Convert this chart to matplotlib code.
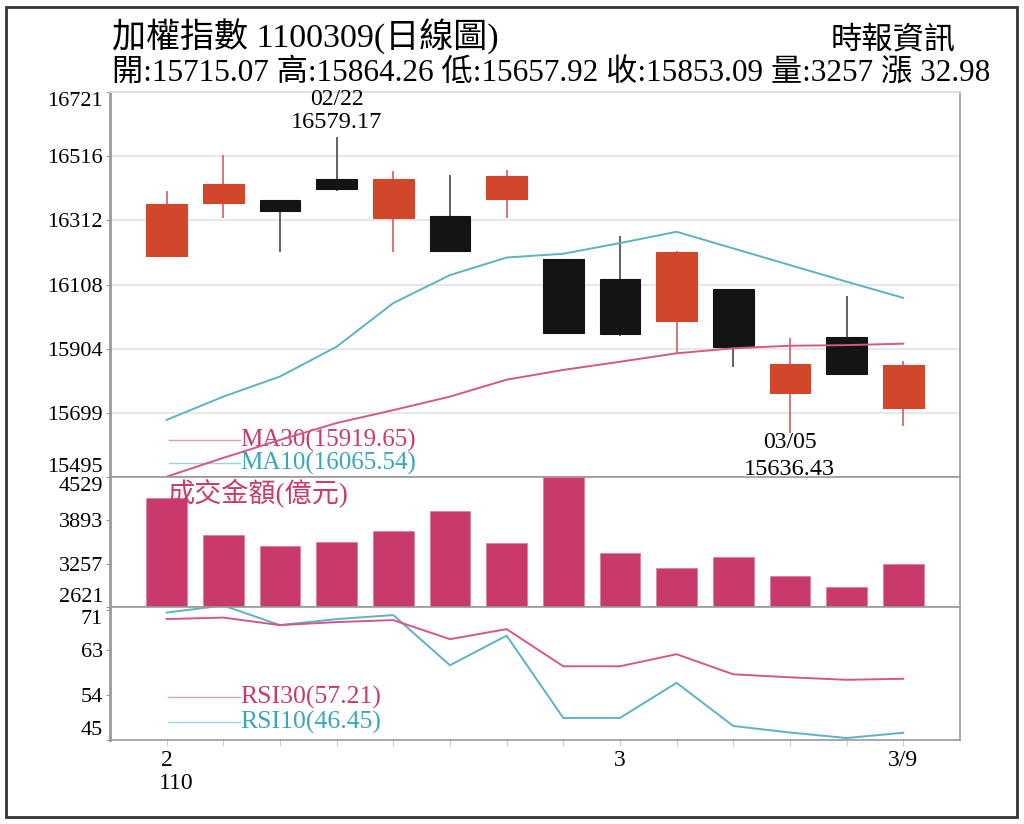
import numpy as np
import matplotlib
matplotlib.use('Agg')
from matplotlib import pyplot as plt
from matplotlib.patches import Rectangle

plt.rcParams['font.family'] = ['Liberation Serif', 'Noto Sans CJK TC']

# daily candles 110/02/18 .. 110/03/09
opens = [16199, 16368, 16377, 16444, 16321, 16326, 16379, 16188, 16126, 15993, 16093, 15762, 15942, 15715.07]
closes = [16364, 16427, 16343, 16411, 16443, 16216, 16455, 15955, 15950, 16212, 15910, 15854, 15823, 15853.09]
highs = [16406, 16520, 16377, 16579.17, 16470, 16457, 16473, 16190, 16262, 16215, 16093, 15937, 16071, 15864.26]
lows = [16199, 16321, 16212, 16405, 16213, 16213, 16321, 15950, 15945, 15889, 15846, 15636.43, 15820, 15657.92]

ma10 = [15677, 15751, 15815, 15910, 16049, 16138, 16194, 16206, 16240, 16276, 16223, 16170, 16117, 16065.54]
ma30 = [15496, 15556, 15613, 15667, 15708, 15751, 15805, 15836, 15862, 15889, 15905, 15913, 15915, 15919.65]

volume = [4221, 3678, 3516, 3579, 3736, 4034, 3565, 4529, 3418, 3198, 3350, 3076, 2910, 3257]

rsi30 = [69.1, 69.4, 67.9, 68.5, 68.9, 65.1, 67.1, 59.7, 59.7, 62.1, 58.1, 57.5, 57.0, 57.21]
rsi10 = [70.4, 71.8, 67.9, 69.1, 69.9, 59.9, 65.8, 49.4, 49.4, 56.4, 47.8, 46.5, 45.4, 46.45]

price_ticks = [15495, 15699, 15904, 16108, 16312, 16516, 16721]
vol_ticks = [2621, 3257, 3893, 4529]
rsi_ticks = [45, 54, 63, 71]
x_labels = {0: '2', 8: '3', 13: '3/9'}

RED = '#d2462c'
BLACK = '#141414'
PINK = '#c93a6c'
MA30_C = '#d4578c'
MA10_C = '#5cb3c3'
GRID = '#e4e4e4'
SPINE = '#9a9a9a'

fig = plt.figure(figsize=(10.24, 8.24), dpi=100)

L, W = 0.1074, 0.830
ax1 = fig.add_axes([L, 0.4211, W, 0.4672])
ax2 = fig.add_axes([L, 0.2633, W, 0.1578], sharex=ax1)
ax3 = fig.add_axes([L, 0.1019, W, 0.1614], sharex=ax1)

x = np.arange(len(opens))
bw = 0.72

# ---- price panel
for i in x:
    o, c, h, lo = opens[i], closes[i], highs[i], lows[i]
    up = c >= o
    col = RED if up else BLACK
    wick = '#d86a6a' if up else '#555555'
    ax1.vlines(i, lo, h, color=wick, lw=1.3, zorder=2)
    ax1.add_patch(Rectangle((i - bw / 2, min(o, c)), bw, abs(c - o),
                            facecolor=col, edgecolor=col, lw=0.8, zorder=3))

ax1.plot(x, ma10, color=MA10_C, lw=1.4, zorder=4)
ax1.plot(x, ma30, color=MA30_C, lw=1.4, zorder=4)

ax1.set_ylim(price_ticks[0], price_ticks[-1])
ax1.set_yticks(price_ticks)
ax1.grid(axis='y', color=GRID, lw=1.2)
ax1.set_axisbelow(True)

ax1.annotate('16579.17', (3, highs[3]), xytext=(0, 14), textcoords='offset pixels',
             ha='center', va='center', fontsize=17.5)
ax1.annotate('02/22', (3, highs[3]), xytext=(0, 37), textcoords='offset pixels',
             ha='center', va='center', fontsize=17, annotation_clip=False)
ax1.annotate('03/05', (11, lows[11]), xytext=(0, -10), textcoords='offset pixels',
             ha='center', va='center', fontsize=17)
ax1.annotate('15636.43', (11, lows[11]), xytext=(0, -37), textcoords='offset pixels',
             ha='center', va='center', fontsize=17.5, zorder=10, annotation_clip=False,
             bbox=dict(facecolor='white', edgecolor='none', pad=0.5))

ax1.plot([0.07, 0.153], [0.096, 0.096], transform=ax1.transAxes, color=MA30_C, lw=1, alpha=0.6)
ax1.plot([0.07, 0.153], [0.036, 0.036], transform=ax1.transAxes, color=MA10_C, lw=1, alpha=0.6)
ax1.text(0.153, 0.096, 'MA30(15919.65)', transform=ax1.transAxes, color=PINK,
         fontsize=18, va='center', ha='left')
ax1.text(0.153, 0.036, 'MA10(16065.54)', transform=ax1.transAxes, color='#3aa6b8',
         fontsize=18, va='center', ha='left')

# ---- volume panel
ax2.bar(x, volume, width=bw, color=PINK, edgecolor='#e07fa0', lw=0.6, zorder=3)
ax2.set_ylim(vol_ticks[0], vol_ticks[-1])
ax2.set_yticks(vol_ticks)
ax2.text(0.068, 0.87, '成交金額(億元)', transform=ax2.transAxes, color=PINK,
         fontsize=19.5, va='center', ha='left', zorder=5)

# ---- rsi panel
ax3.plot(x, rsi10, color=MA10_C, lw=1.4)
ax3.plot(x, rsi30, color=MA30_C, lw=1.4)
ax3.set_ylim(45, 71.5)
ax3.set_yticks(rsi_ticks)
ax3.plot([0.068, 0.153], [0.323, 0.323], transform=ax3.transAxes, color=MA30_C, lw=1, alpha=0.6)
ax3.plot([0.068, 0.153], [0.135, 0.135], transform=ax3.transAxes, color=MA10_C, lw=1, alpha=0.6)
ax3.text(0.153, 0.323, 'RSI30(57.21)', transform=ax3.transAxes, color=PINK,
         fontsize=18.5, va='center', ha='left')
ax3.text(0.153, 0.135, 'RSI10(46.45)', transform=ax3.transAxes, color='#3aa6b8',
         fontsize=18.5, va='center', ha='left')

ax3.set_xlim(-1.0, 14.0)
ax3.set_xticks(x)
ax3.set_xticklabels([x_labels.get(i, '') for i in x])
ax3.text(-0.14, -0.33, '110', transform=ax3.get_xaxis_transform(), fontsize=17,
         ha='left', va='center')

for ax in (ax1, ax2, ax3):
    for s in ax.spines.values():
        s.set_color(SPINE)
        s.set_linewidth(1.2)
    ax.spines['left'].set_linewidth(2)
    ax.tick_params(axis='y', length=3, pad=2, labelsize=16, color=SPINE)
    ax.tick_params(axis='x', length=4, color='#cccccc', labelsize=17)
    labels = ax.get_yticklabels()
    labels[0].set_va('bottom')
    labels[-1].set_va('top')
ax1.spines['top'].set_color('#dddddd')
ax1.tick_params(axis='x', labelbottom=False, length=0)
ax2.tick_params(axis='x', labelbottom=False, length=0)

# ---- header
fig.text(0.109, 0.955, '加權指數 1100309(日線圖)', fontsize=24.5, ha='left', va='center')
fig.text(0.109, 0.910, '開:15715.07 高:15864.26 低:15657.92 收:15853.09 量:3257 漲 32.98',
         fontsize=22.5, ha='left', va='center')
fig.text(0.933, 0.950, '時報資訊', fontsize=22.5, ha='right', va='center')

fig.add_artist(Rectangle((0.006, 0.009), 0.987, 0.983, transform=fig.transFigure,
                         fill=False, edgecolor='#333333', lw=2))

fig.savefig('out.png', dpi=100)
